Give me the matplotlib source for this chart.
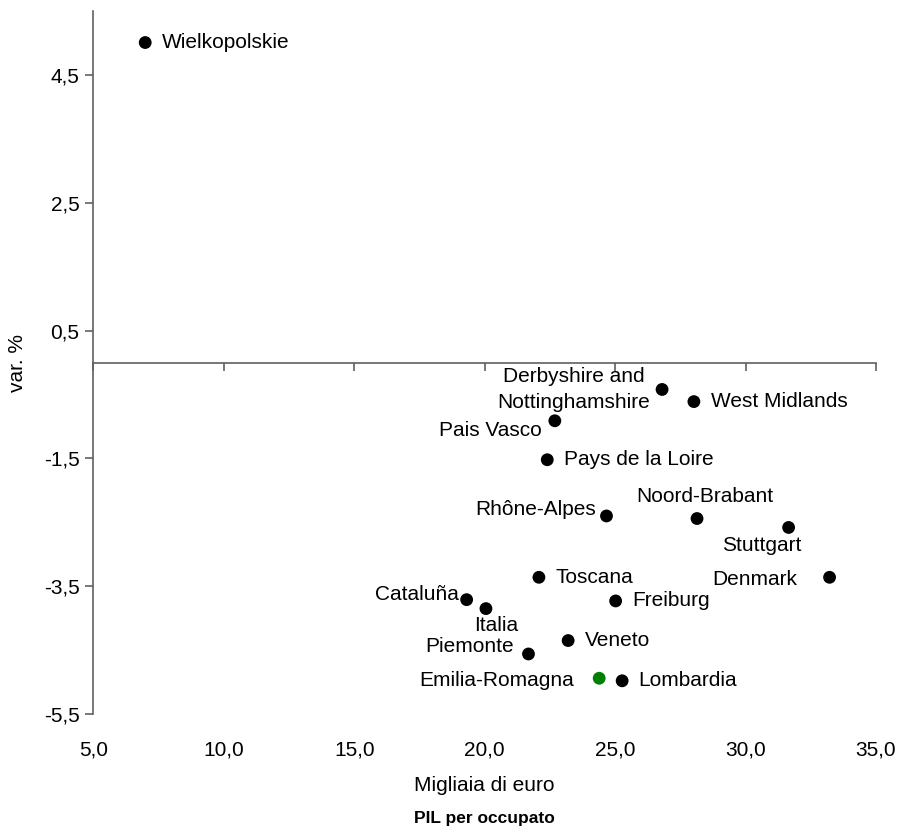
import matplotlib
matplotlib.use("Agg")
import matplotlib.pyplot as plt
from matplotlib.ticker import FuncFormatter

plt.rcParams['font.family'] = ['Liberation Sans', 'DejaVu Sans']

regions = ['Wielkopolskie', 'Derbyshire and\nNottinghamshire', 'West Midlands',
           'Pais Vasco', 'Pays de la Loire', 'Rhône-Alpes', 'Noord-Brabant',
           'Stuttgart', 'Toscana', 'Denmark', 'Cataluña', 'Italia', 'Freiburg',
           'Veneto', 'Piemonte', 'Emilia-Romagna', 'Lombardia']
pil = [6.99, 26.80, 28.02, 22.69, 22.40, 24.67, 28.14, 31.65, 22.08, 33.22,
       19.31, 20.05, 25.02, 23.20, 21.68, 24.39, 25.27]
var = [5.01, -0.42, -0.61, -0.91, -1.52, -2.40, -2.44, -2.58, -3.36, -3.36,
       -3.71, -3.85, -3.73, -4.35, -4.56, -4.94, -4.98]
highlight = 'Emilia-Romagna'

x_ticks = [5, 10, 15, 20, 25, 30, 35]
y_ticks = [-5.5, -3.5, -1.5, 0.5, 2.5, 4.5]

# label placement: (dx px, dy px, ha)
label_pos = {
    'Wielkopolskie': (17, 0, 'left'),
    'Derbyshire and\nNottinghamshire': (-12, 0, 'right'),
    'West Midlands': (17, 0, 'left'),
    'Pais Vasco': (-13, -10, 'right'),
    'Pays de la Loire': (17, 0, 'left'),
    'Rhône-Alpes': (-10, 6, 'right'),
    'Noord-Brabant': (8, 22, 'center'),
    'Stuttgart': (-27, -18, 'center'),
    'Toscana': (17, 0, 'left'),
    'Denmark': (-32, -2, 'right'),
    'Cataluña': (-8, 5, 'right'),
    'Italia': (10, -17, 'center'),
    'Freiburg': (17, 0, 'left'),
    'Veneto': (17, 0, 'left'),
    'Piemonte': (-15, 7, 'right'),
    'Emilia-Romagna': (-25, -2, 'right'),
    'Lombardia': (16, 0, 'left'),
}

fs = 15
fig = plt.figure(figsize=(8.97, 8.32), dpi=100)
ax = fig.add_axes([0.104, 0.1418, 0.8726, 0.8447])

colors = ['#008000' if r == highlight else 'black' for r in regions]
ax.scatter(pil, var, s=85, c=colors, zorder=3, linewidths=0)

for r, x, y in zip(regions, pil, var):
    dx, dy, ha = label_pos[r]
    ax.annotate(r, (x, y), xytext=(dx, dy), textcoords='offset pixels',
                ha=ha, va='center', multialignment='center', fontsize=fs,
                linespacing=1.45)

ax.set_xlim(5, 35)
ax.set_ylim(-5.5, 5.5)

axis_col = '#606060'
for s in ['top', 'right', 'bottom']:
    ax.spines[s].set_visible(False)
ax.spines['left'].set_color(axis_col)
ax.spines['left'].set_linewidth(1.2)

comma = FuncFormatter(lambda v, p: f'{v:.1f}'.replace('.', ','))

ax.set_yticks(y_ticks)
ax.yaxis.set_major_formatter(comma)
ax.tick_params(axis='y', direction='out', length=6, width=1.2, color=axis_col,
               labelsize=fs, pad=4)

ax.set_xticks(x_ticks)
ax.xaxis.set_major_formatter(comma)
ax.tick_params(axis='x', length=0, labelsize=fs, pad=19)

# horizontal axis line crossing at y = 0
sec = ax.secondary_xaxis(0.5)
sec.set_xticks(x_ticks)
sec.tick_params(axis='x', which='both', direction='in', length=6, width=1.2,
                color=axis_col, labeltop=False, labelbottom=False)
for s in sec.spines.values():
    s.set_color(axis_col)
    s.set_linewidth(1.2)

ax.set_xlabel('Migliaia di euro', fontsize=fs, labelpad=12)
ax.set_ylabel('var. %', fontsize=fs, labelpad=12)

fig.text(0.54, 0.0168, 'PIL per occupato', ha='center', va='center',
         fontsize=12.5, fontweight='bold')

fig.savefig('out.png', dpi=100)
